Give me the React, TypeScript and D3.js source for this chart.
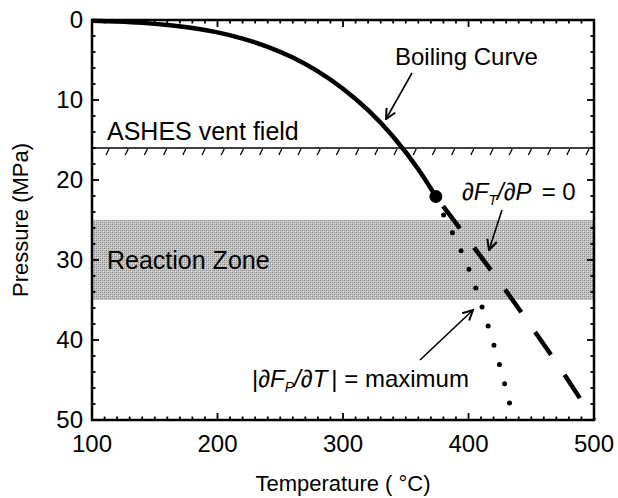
import React from "react";
import * as d3 from "d3";

// boiling curve of seawater-like fluid (T in °C, P in MPa)
const boilingT = [100, 120, 140, 160, 180, 200, 220, 240, 260, 280, 300, 320, 340, 360, 374];
const boilingP = [0.1, 0.2, 0.36, 0.62, 1.0, 1.55, 2.32, 3.35, 4.69, 6.42, 8.59, 11.28, 14.59, 18.65, 22.06];

// |dFp/dT| = maximum (dotted)
const maxT = [374, 380, 390, 400, 410, 420, 430, 436];
const maxP = [22.06, 24.3, 27.5, 31.0, 35.5, 40.5, 46.2, 50];

// dFt/dP = 0 (dashed)
const zeroT = [374, 400, 425, 450, 475, 500];
const zeroP = [22.06, 27.5, 32.8, 38.3, 44.0, 50];

const criticalPoint = { t: 374, p: 22.06 };
const ventDepth = 16; // MPa
const reactionZone = [25, 35];

const xTicks = [100, 200, 300, 400, 500];
const yTicks = [0, 10, 20, 30, 40, 50];

const W = 618;
const H = 498;
const margin = { top: 20, right: 24, bottom: 78, left: 92 };

const font = "'Liberation Sans', Arial, Helvetica, sans-serif";

export default function App() {
  const x = d3.scaleLinear().domain([100, 500]).range([margin.left, W - margin.right]);
  const y = d3.scaleLinear().domain([0, 50]).range([margin.top, H - margin.bottom]);

  const [x0, x1] = x.range();
  const [y0, y1] = y.range();

  const line = d3
    .line<[number, number]>()
    .x((d) => x(d[0]))
    .y((d) => y(d[1]))
    .curve(d3.curveMonotoneX);

  const boiling = boilingT.map((t, i) => [t, boilingP[i]] as [number, number]);
  const maxLine = maxT.map((t, i) => [t, maxP[i]] as [number, number]);
  const zeroLine = zeroT.map((t, i) => [t, zeroP[i]] as [number, number]);

  const minorX = x.ticks(40);
  const minorY = y.ticks(25);
  const yVent = y(ventDepth);
  const hatches = d3.range(x0 + 15, x1 - 4, 19.2);

  return (
    <svg
      width={W}
      height={H}
      style={{ position: "absolute", left: 0, top: 0, background: "#fff" }}
      fontFamily={font}
    >
      <defs>
        <pattern id="dither" width="4" height="4" patternUnits="userSpaceOnUse">
          <rect width="4" height="4" fill="#c4c4c4" />
          <rect x="0" y="0" width="1" height="1" fill="#808080" />
          <rect x="2" y="2" width="1" height="1" fill="#808080" />
          <rect x="2" y="0" width="1" height="1" fill="#a0a0a0" />
          <rect x="0" y="2" width="1" height="1" fill="#a0a0a0" />
          <rect x="1" y="1" width="1" height="1" fill="#e0e0e0" />
          <rect x="3" y="3" width="1" height="1" fill="#e0e0e0" />
        </pattern>
        <marker
          id="arrow"
          viewBox="0 0 12 12"
          refX="11"
          refY="6"
          markerWidth="12"
          markerHeight="12"
          markerUnits="userSpaceOnUse"
          orient="auto"
        >
          <path d="M1,1 L11,6 L1,11" fill="none" stroke="#000" strokeWidth="2" />
        </marker>
      </defs>

      {/* reaction zone */}
      <rect
        x={x0}
        y={y(reactionZone[0])}
        width={x1 - x0}
        height={y(reactionZone[1]) - y(reactionZone[0])}
        fill="url(#dither)"
      />
      <text x={x0 + 15} y={y(31.1)} fontSize={25} fill="#000">
        Reaction Zone
      </text>

      {/* ASHES vent field line */}
      <line x1={x0} x2={x1} y1={yVent} y2={yVent} stroke="#000" strokeWidth={1.5} />
      {hatches.map((hx, i) => (
        <line key={i} x1={hx + 2} y1={yVent + 1} x2={hx - 1} y2={yVent + 7} stroke="#000" strokeWidth={1.3} />
      ))}
      <text x={x0 + 15} y={yVent - 8} fontSize={25} fill="#000">
        ASHES vent field
      </text>

      {/* curves */}
      <path d={line(boiling) ?? ""} fill="none" stroke="#000" strokeWidth={4.5} />
      <path
        d={line(maxLine) ?? ""}
        fill="none"
        stroke="#000"
        strokeWidth={5}
        strokeLinecap="round"
        strokeDasharray="0 20"
      />
      <path
        d={line(zeroLine) ?? ""}
        fill="none"
        stroke="#000"
        strokeWidth={4.5}
        strokeDasharray="28 24"
        strokeDashoffset={-12}
      />
      <circle cx={x(criticalPoint.t)} cy={y(criticalPoint.p)} r={6.5} fill="#000" />

      {/* annotations */}
      <text x={395} y={65} fontSize={24} fill="#000">
        Boiling Curve
      </text>
      <line x1={412} y1={73} x2={386} y2={119} stroke="#000" strokeWidth={1.6} markerEnd="url(#arrow)" />

      <text x={462} y={200} fontSize={24} fill="#000">
        <tspan fontStyle="italic">∂F</tspan>
        <tspan fontStyle="italic" fontSize={14} dy={5}>T</tspan>
        <tspan fontStyle="italic" dy={-5}>/∂P</tspan>
        <tspan dx={10}>= 0</tspan>
      </text>
      <line x1={502} y1={210} x2={489} y2={250} stroke="#000" strokeWidth={1.6} markerEnd="url(#arrow)" />

      <text x={252} y={387} fontSize={24} fill="#000">
        <tspan>|</tspan>
        <tspan fontStyle="italic">∂F</tspan>
        <tspan fontStyle="italic" fontSize={14} dy={5}>P</tspan>
        <tspan fontStyle="italic" dy={-5}>/∂T</tspan>
        <tspan dx={4}>| = maximum</tspan>
      </text>
      <line x1={420} y1={360} x2={473} y2={310} stroke="#000" strokeWidth={1.6} markerEnd="url(#arrow)" />

      {/* frame and ticks */}
      <rect x={x0} y={y0} width={x1 - x0} height={y1 - y0} fill="none" stroke="#000" strokeWidth={2.5} />
      {minorX.map((t) => {
        const len = t % 100 === 0 ? 7 : 3.5;
        return (
          <g key={"x" + t}>
            <line x1={x(t)} x2={x(t)} y1={y1} y2={y1 - len} stroke="#000" strokeWidth={1.8} />
            <line x1={x(t)} x2={x(t)} y1={y0} y2={y0 + len} stroke="#000" strokeWidth={1.8} />
          </g>
        );
      })}
      {minorY.map((p) => {
        const len = p % 10 === 0 ? 7 : 3.5;
        return (
          <g key={"y" + p}>
            <line x1={x0} x2={x0 + len} y1={y(p)} y2={y(p)} stroke="#000" strokeWidth={1.8} />
            <line x1={x1} x2={x1 - len} y1={y(p)} y2={y(p)} stroke="#000" strokeWidth={1.8} />
          </g>
        );
      })}

      {/* tick labels */}
      {xTicks.map((t) => (
        <text key={"xl" + t} x={x(t)} y={452} fontSize={24} textAnchor="middle" fill="#000">
          {t}
        </text>
      ))}
      {yTicks.map((p) => (
        <text key={"yl" + p} x={x0 - 9} y={y(p) + 8} fontSize={24} textAnchor="end" fill="#000">
          {p}
        </text>
      ))}

      {/* axis titles */}
      <text x={(x0 + x1) / 2} y={491} fontSize={22} textAnchor="middle" fill="#000">
        Temperature ( °C)
      </text>
      <text
        transform={`translate(28,${(y0 + y1) / 2}) rotate(-90)`}
        fontSize={22}
        textAnchor="middle"
        fill="#000"
      >
        Pressure (MPa)
      </text>
    </svg>
  );
}
